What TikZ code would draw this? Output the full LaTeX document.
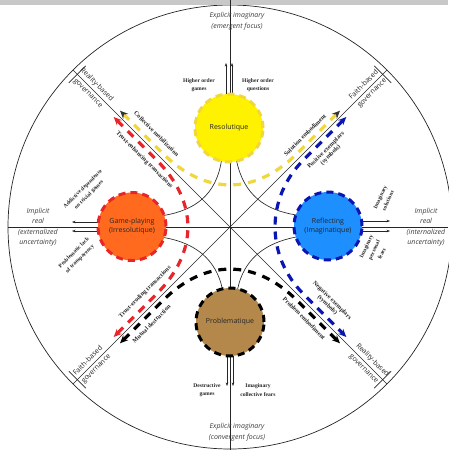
\documentclass[tikz,border=0pt]{standalone}
\usepackage{fontspec}
\setmainfont{Liberation Serif}
\newfontfamily\osans{Open Sans}
\usetikzlibrary{arrows.meta,backgrounds}
\definecolor{yfill}{RGB}{255,242,0}
\definecolor{ydash}{RGB}{240,215,60}
\definecolor{ofill}{RGB}{255,106,30}
\definecolor{rdash}{RGB}{232,37,42}
\definecolor{bfill}{RGB}{30,143,255}
\definecolor{bdash}{RGB}{11,22,176}
\definecolor{pfill}{RGB}{180,136,75}
\definecolor{greybar}{RGB}{200,200,200}
\definecolor{txtgrey}{RGB}{60,60,60}
\tikzset{
 hub/.style={circle, minimum size=68pt, inner sep=0pt, outer sep=0pt, line width=3pt, dash pattern=on 7pt off 5pt, font=\osans\fontsize{7}{9}\selectfont, align=center, text=black!85},
 axislabel/.style={font=\osans\itshape\fontsize{7}{10.5}\selectfont, align=center, text=txtgrey, inner sep=0pt},
 govlabel/.style={font=\osans\fontsize{7}{8}\selectfont, inner sep=0pt, text=black!85},
 smalllabel/.style={font=\bfseries\fontsize{5.6}{8.5}\selectfont, align=center, inner sep=0pt, text=black!85},
 pathlabel/.style={font=\bfseries\fontsize{6.2}{6.6}\selectfont, align=center, inner sep=0pt, text=black!85},
 spoke/.style={line width=0.65pt, black!85},
 curveline/.style={line width=0.65pt, black!85},
 outarrow/.style={line width=0.5pt, black!85, -{Stealth[length=3.5pt,width=2.6pt]}},
 dashflow/.style={line width=3.2pt, dash pattern=on 8pt off 7pt},
}
\begin{document}
\begin{tikzpicture}[x=1pt,y=-1pt]
\useasboundingbox (0,0) rectangle (448,450);
% hubs
\node[hub, fill=yfill, draw=ydash] (Y) at (229,128) {Resolutique};
\node[hub, fill=ofill, draw=rdash] (G) at (132,226.5) {Game-playing\\(Irresolutique)};
\node[hub, fill=bfill, draw=bdash] (B) at (328,226) {Reflecting\\(Imaginatique)};
\node[hub, fill=pfill, draw=black] (P) at (230,322) {Problematique};
% coordinates
\coordinate (O) at (230,227);
\coordinate (Top) at (230,0);
\coordinate (Bot) at (230,450);
\coordinate (Lft) at (8,227);
\coordinate (Rgt) at (448,227);
\coordinate (ULe) at (73,70);
\coordinate (URe) at (387,70);
\coordinate (LLe) at (73,384);
\coordinate (LRe) at (387,384);
\coordinate (ULt1) at (68.8,82.8); \coordinate (ULt2) at (85.8,65.8);
\coordinate (URt1) at (374.2,65.8); \coordinate (URt2) at (391.2,82.8);
\coordinate (LLt1) at (68.8,371.2); \coordinate (LLt2) at (85.8,388.2);
\coordinate (LRt1) at (374.2,388.2); \coordinate (LRt2) at (391.2,371.2);
% flow path points
\coordinate (Ya) at (120.0,110.7); \coordinate (Yq1) at (162.5,153.1);
\coordinate (Yq2) at (297.5,153.1); \coordinate (Yb) at (340.0,110.7);
\coordinate (Ra) at (113.7,117.0); \coordinate (Rq1) at (156.1,159.5);
\coordinate (Rq2) at (156.1,294.5); \coordinate (Rb) at (113.7,337.0);
\coordinate (Ka) at (120.0,343.3); \coordinate (Kq1) at (162.5,300.9);
\coordinate (Kq2) at (297.5,300.9); \coordinate (Kb) at (340.0,343.3);
\coordinate (Ba) at (346.3,117.0); \coordinate (Bq1) at (303.9,159.5);
\coordinate (Bq2) at (303.9,294.5); \coordinate (Bb) at (346.3,337.0);
% arrow ends
\coordinate (Yt1) at (226,63); \coordinate (Yt2) at (232,63);
\coordinate (Pt1) at (227,386); \coordinate (Pt2) at (233,386);
\coordinate (Gt1) at (72,222); \coordinate (Gt2) at (72,231);
\coordinate (Bt1) at (390,221); \coordinate (Bt2) at (390,231);

\begin{scope}[on background layer]
\draw[line width=0.7pt, black!85] (O) circle[radius=222pt];
\fill[greybar] (0,0) rectangle (448,4.5);
\draw[spoke] (Top) -- (Bot);
\draw[spoke] (Lft) -- (Rgt);
\draw[spoke] (ULe) -- (LRe);
\draw[spoke] (URe) -- (LLe);
\draw[spoke] (ULt1) -- (ULt2);
\draw[spoke] (URt1) -- (URt2);
\draw[spoke] (LLt1) -- (LLt2);
\draw[spoke] (LRt1) -- (LRt2);
% thin connecting curves
\draw[curveline] (Y.257) .. controls (216,195) and (195,210) .. (G.19);
\draw[curveline] (Y.283) .. controls (244,195) and (265,210) .. (B.161);
\draw[curveline] (G.-19) .. controls (195,243) and (216,259) .. (P.103);
\draw[curveline] (B.199) .. controls (265,243) and (244,259) .. (P.77);
% dashed flows
\draw[dashflow, ydash, {Stealth[length=8pt,width=7pt,color=black!80,fill=ydash]}-{Stealth[length=8pt,width=7pt,color=black!80,fill=ydash]}]
  (Ya) -- (Yq1) .. controls (204.9,195.5) and (255.1,195.5) .. (Yq2) -- (Yb);
\draw[dashflow, rdash, {Stealth[length=8pt,width=7pt]}-{Stealth[length=8pt,width=7pt]}]
  (Ra) -- (Rq1) .. controls (198.5,201.9) and (198.5,252.1) .. (Rq2) -- (Rb);
\draw[dashflow, black, {Stealth[length=8pt,width=7pt]}-{Stealth[length=8pt,width=7pt]}]
  (Ka) -- (Kq1) .. controls (204.9,258.5) and (255.1,258.5) .. (Kq2) -- (Kb);
\draw[dashflow, bdash, {Stealth[length=8pt,width=7pt]}-{Stealth[length=8pt,width=7pt]}]
  (Ba) -- (Bq1) .. controls (265.4,198.0) and (265.4,256.0) .. (Bq2) -- (Bb);
% out arrows
\draw[outarrow] ([xshift=-3pt]Y.north) -- (Yt1);
\draw[outarrow] ([xshift=3pt]Y.north) -- (Yt2);
\draw[outarrow] ([xshift=-3pt]P.south) -- (Pt1);
\draw[outarrow] ([xshift=3pt]P.south) -- (Pt2);
\draw[outarrow] ([yshift=4.5pt]G.west) -- (Gt1);
\draw[outarrow] ([yshift=-4.5pt]G.west) -- (Gt2);
\draw[outarrow] ([yshift=5pt]B.east) -- (Bt1);
\draw[outarrow] ([yshift=-5pt]B.east) -- (Bt2);
\end{scope}

% axis labels
\node[axislabel] (tl) at (237,21) {Explicit imaginary\\(emergent focus)};
\node[axislabel] (bl) at (237,432) {Explicit imaginary\\(convergent focus)};
\node[axislabel] (ll) at (38,227) {Implicit\\real\\(externalized\\uncertainty)};
\node[axislabel] (rl) at (426,227) {Implicit\\real\\(internalized\\uncertainty)};
% small labels
\node[smalllabel] (hg) at (199,85) {Higher order\\games};
\node[smalllabel] (hq) at (258,85) {Higher order\\questions};
\node[smalllabel] (dg) at (207,390) {Destructive\\games};
\node[smalllabel] (ic) at (258,390) {Imaginary\\collective fears};
\node[smalllabel, rotate=45] (ad) at (86,192) {Addictive dependence\\on trivial games};
\node[smalllabel, rotate=45] (pl) at (77,256) {Problematic lack\\of transparency};
\node[smalllabel, rotate=65] (is) at (384,199) {Imaginary\\solutions};
\node[smalllabel, rotate=65] (ipf) at (374,250) {Imaginary\\personal\\fears};
% governance labels
\node[govlabel, rotate=-45] (g1a) at (96.7,84.5) {Reality-based};
\node[govlabel, rotate=-45] (g1b) at (87.5,93.7) {governance};
\node[govlabel, rotate=45] (g2a) at (363.3,84.5) {Faith-based};
\node[govlabel, rotate=45] (g2b) at (372.5,93.7) {governance};
\node[govlabel, rotate=45] (g3a) at (87.5,360.3) {Faith-based};
\node[govlabel, rotate=45] (g3b) at (96.7,369.5) {governance};
\node[govlabel, rotate=-45] (g4a) at (372.5,360.3) {Reality-based};
\node[govlabel, rotate=-45] (g4b) at (363.3,369.5) {governance};
% path labels
\node[pathlabel, rotate=-45] (p1) at (156.5,133.7) {Collective mobilization};
\node[pathlabel, rotate=-45] (p2) at (144.4,159.8) {Trust-enhancing transactions};
\node[pathlabel, rotate=45] (p3) at (305.0,135.1) {Solution embodiment};
\node[pathlabel, rotate=45] (p4) at (328.3,152.8) {Positive exemplars\\(symbols)};
\node[pathlabel, rotate=45] (p5) at (145.1,292.1) {Trust-eroding transactions};
\node[pathlabel, rotate=45] (p6) at (151.5,323.9) {Mutual destruction};
\node[pathlabel, rotate=-45] (p7) at (329.7,302.7) {Negative exemplars\\(symbols)};
\node[pathlabel, rotate=-45] (p8) at (304.2,318.2) {Problem embodiment};
\end{tikzpicture}
\end{document}
